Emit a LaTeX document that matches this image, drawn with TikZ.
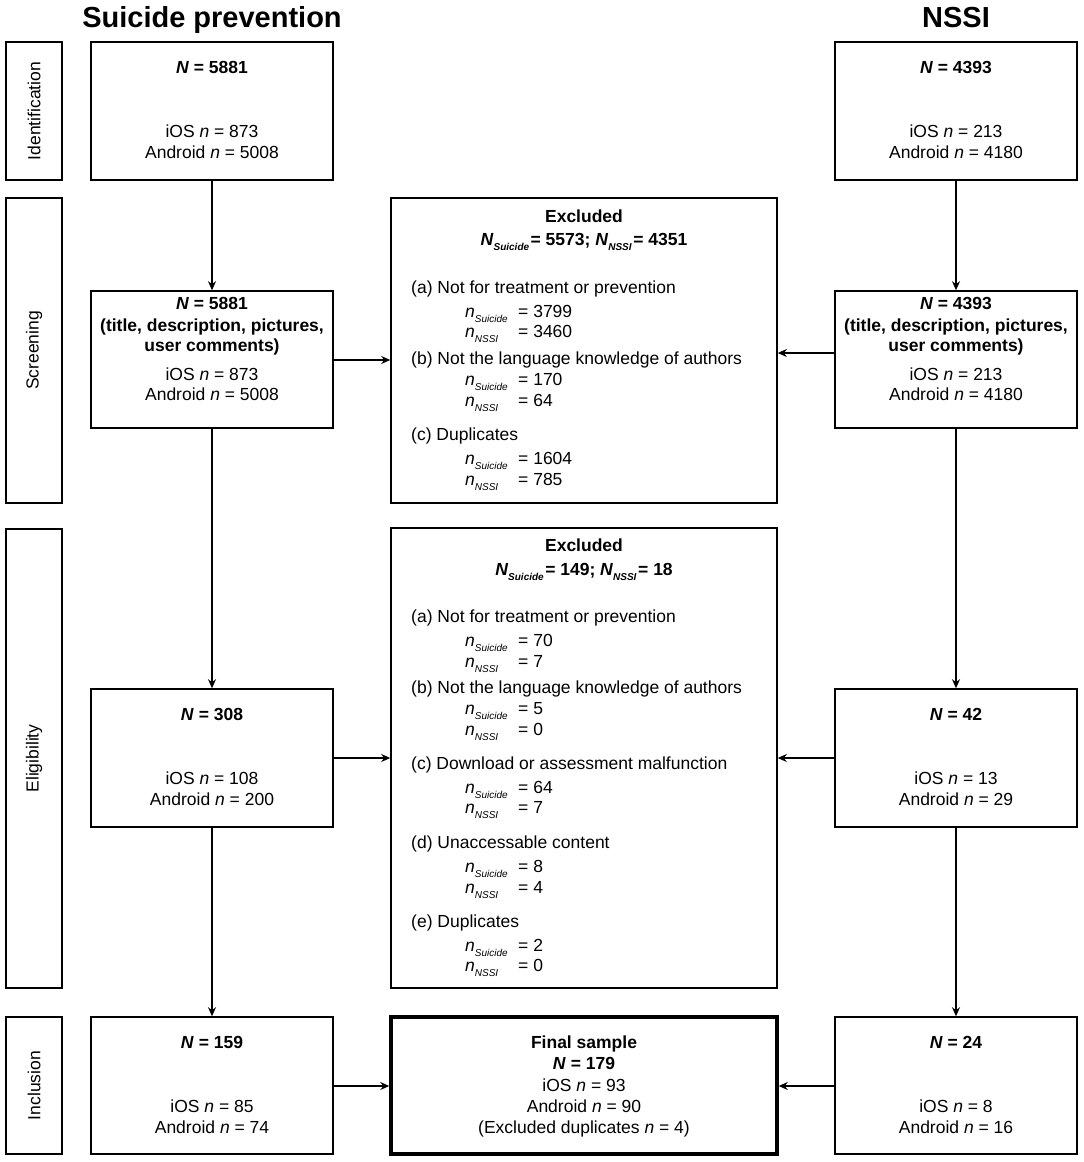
\documentclass[tikz,border=0pt]{standalone}
\usepackage{fontspec}
\setmainfont{Liberation Sans}
\usetikzlibrary{arrows.meta}
\newcommand{\nsub}[1]{\textit{n}\raisebox{-5pt}{\fontsize{10}{10}\selectfont\textit{#1}}}
\newcommand{\Nsub}[1]{\textit{N}\raisebox{-5pt}{\fontsize{10}{10}\selectfont\textit{#1}}\hspace{1.5pt}}
\newcommand{\cnt}[2]{\makebox[53pt][l]{\nsub{#1}}= #2}
\newcommand{\bN}{\textbf{\textit{N}}}
\begin{document}
\begin{tikzpicture}[x=1pt,y=-1pt,
  box/.style={draw, line width=1.6pt, inner sep=0pt},
  stagebox/.style={box, rotate=90, font=\fontsize{17.5}{21}\selectfont},
  txt/.style={inner sep=0pt, anchor=base, font=\fontsize{17.5}{21}\selectfont},
  ltxt/.style={txt, anchor=base west},
  titletxt/.style={inner sep=0pt, anchor=base, font=\fontsize{29}{34}\selectfont\bfseries},
  arr/.style={line width=1.6pt, -{Stealth[length=9pt,width=8pt]}}]
\useasboundingbox (0,0) rectangle (1084,1162);

% titles
\node[titletxt] (T1) at (212,27) {Suicide prevention};
\node[titletxt] (T2) at (956,27) {NSSI};

% stage boxes
\node[stagebox, minimum width=138pt, minimum height=56pt] (S1) at (34,111) {Identification};
\node[stagebox, minimum width=305pt, minimum height=56pt] (S2) at (34,350.5) {Screening};
\node[stagebox, minimum width=459pt, minimum height=56pt] (S3) at (34,758.5) {Eligibility};
\node[stagebox, minimum width=137pt, minimum height=56pt] (S4) at (34,1085.5) {Inclusion};

% left column
\node[box, minimum width=242pt, minimum height=138pt] (L1) at (212,111) {};
\node[box, minimum width=242pt, minimum height=137pt] (L2) at (212,359.5) {};
\node[box, minimum width=242pt, minimum height=138pt] (L3) at (212,758) {};
\node[box, minimum width=242pt, minimum height=137pt] (L4) at (212,1085.5) {};
% right column
\node[box, minimum width=242pt, minimum height=138pt] (R1) at (956,111) {};
\node[box, minimum width=242pt, minimum height=137pt] (R2) at (956,359.5) {};
\node[box, minimum width=242pt, minimum height=138pt] (R3) at (956,758) {};
\node[box, minimum width=242pt, minimum height=137pt] (R4) at (956,1085.5) {};
% middle
\node[box, minimum width=386pt, minimum height=305pt] (X1) at (584,350.5) {};
\node[box, minimum width=386pt, minimum height=460pt] (X2) at (584,758) {};
\node[box, line width=3.5pt, minimum width=386pt, minimum height=137pt] (F) at (584,1085.5) {};

% arrows
\draw[arr] (L1.south) -- (L2.north);
\draw[arr] (L2.south) -- (L3.north);
\draw[arr] (L3.south) -- (L4.north);
\draw[arr] (R1.south) -- (R2.north);
\draw[arr] (R2.south) -- (R3.north);
\draw[arr] (R3.south) -- (R4.north);
\draw[arr] ([yshift=-0.5pt]L2.east) -- ([yshift=-0.5pt]L2.east -| X1.west);
\draw[arr] ([yshift=6.5pt]R2.west) -- ([yshift=6.5pt]R2.west -| X1.east);
\draw[arr] (L3.east) -- (L3.east -| X2.west);
\draw[arr] (R3.west) -- (R3.west -| X2.east);
\draw[arr] ([yshift=-0.5pt]L4.east) -- ([yshift=-0.5pt]L4.east -| F.west);
\draw[arr] ([yshift=-0.5pt]R4.west) -- ([yshift=-0.5pt]R4.west -| F.east);

% left column texts
\node[txt] (l1a) at (212,73) {\bN\textbf{ = 5881}};
\node[txt] (l1b) at (212,137) {iOS \textit{n} = 873};
\node[txt] (l1c) at (212,158.5) {Android \textit{n} = 5008};
\node[txt] (l2a) at (212,309) {\bN\textbf{ = 5881}};
\node[txt] (l2b) at (212,331.5) {\textbf{(title, description, pictures,}};
\node[txt] (l2c) at (212,351.5) {\textbf{user comments)}};
\node[txt] (l2d) at (212,380) {iOS \textit{n} = 873};
\node[txt] (l2e) at (212,400.5) {Android \textit{n} = 5008};
\node[txt] (l3a) at (212,720) {\bN\textbf{ = 308}};
\node[txt] (l3b) at (212,784) {iOS \textit{n} = 108};
\node[txt] (l3c) at (212,805.5) {Android \textit{n} = 200};
\node[txt] (l4a) at (212,1048) {\bN\textbf{ = 159}};
\node[txt] (l4b) at (212,1112) {iOS \textit{n} = 85};
\node[txt] (l4c) at (212,1133.5) {Android \textit{n} = 74};

% right column texts
\node[txt] (r1a) at (956,73) {\bN\textbf{ = 4393}};
\node[txt] (r1b) at (956,137) {iOS \textit{n} = 213};
\node[txt] (r1c) at (956,158.5) {Android \textit{n} = 4180};
\node[txt] (r2a) at (956,309) {\bN\textbf{ = 4393}};
\node[txt] (r2b) at (956,331.5) {\textbf{(title, description, pictures,}};
\node[txt] (r2c) at (956,351.5) {\textbf{user comments)}};
\node[txt] (r2d) at (956,380) {iOS \textit{n} = 213};
\node[txt] (r2e) at (956,400.5) {Android \textit{n} = 4180};
\node[txt] (r3a) at (956,720) {\bN\textbf{ = 42}};
\node[txt] (r3b) at (956,784) {iOS \textit{n} = 13};
\node[txt] (r3c) at (956,805.5) {Android \textit{n} = 29};
\node[txt] (r4a) at (956,1048) {\bN\textbf{ = 24}};
\node[txt] (r4b) at (956,1112) {iOS \textit{n} = 8};
\node[txt] (r4c) at (956,1133.5) {Android \textit{n} = 16};

% final sample
\node[txt] (f1) at (584,1048) {\textbf{Final sample}};
\node[txt] (f2) at (584,1069.5) {\bN\textbf{ = 179}};
\node[txt] (f3) at (584,1091) {iOS \textit{n} = 93};
\node[txt] (f4) at (584,1112) {Android \textit{n} = 90};
\node[txt] (f5) at (584,1133.5) {(Excluded duplicates \textit{n} = 4)};

% excluded 1
\node[txt] (x1h) at (584,222) {\textbf{Excluded}};
\node[txt] (x1n) at (584,245) {\bfseries\Nsub{Suicide}= 5573; \Nsub{NSSI}= 4351};
\node[ltxt] (x1a) at (411,293) {(a) Not for treatment or prevention};
\node[ltxt] (x1a1) at (465,317) {\cnt{Suicide}{3799}};
\node[ltxt] (x1a2) at (465,337) {\cnt{NSSI}{3460}};
\node[ltxt] (x1b) at (411,364) {(b) Not the language knowledge of authors};
\node[ltxt] (x1b1) at (465,385) {\cnt{Suicide}{170}};
\node[ltxt] (x1b2) at (465,406) {\cnt{NSSI}{64}};
\node[ltxt] (x1c) at (411,440) {(c) Duplicates};
\node[ltxt] (x1c1) at (465,464) {\cnt{Suicide}{1604}};
\node[ltxt] (x1c2) at (465,485) {\cnt{NSSI}{785}};

% excluded 2
\node[txt] (x2h) at (584,551.5) {\textbf{Excluded}};
\node[txt] (x2n) at (584,575) {\bfseries\Nsub{Suicide}= 149; \Nsub{NSSI}= 18};
\node[ltxt] (x2a) at (411,622) {(a) Not for treatment or prevention};
\node[ltxt] (x2a1) at (465,646) {\cnt{Suicide}{70}};
\node[ltxt] (x2a2) at (465,667) {\cnt{NSSI}{7}};
\node[ltxt] (x2b) at (411,693) {(b) Not the language knowledge of authors};
\node[ltxt] (x2b1) at (465,714) {\cnt{Suicide}{5}};
\node[ltxt] (x2b2) at (465,735) {\cnt{NSSI}{0}};
\node[ltxt] (x2c) at (411,769) {(c) Download or assessment malfunction};
\node[ltxt] (x2c1) at (465,793) {\cnt{Suicide}{64}};
\node[ltxt] (x2c2) at (465,813) {\cnt{NSSI}{7}};
\node[ltxt] (x2d) at (411,848) {(d) Unaccessable content};
\node[ltxt] (x2d1) at (465,872) {\cnt{Suicide}{8}};
\node[ltxt] (x2d2) at (465,893) {\cnt{NSSI}{4}};
\node[ltxt] (x2e) at (411,927) {(e) Duplicates};
\node[ltxt] (x2e1) at (465,951) {\cnt{Suicide}{2}};
\node[ltxt] (x2e2) at (465,971) {\cnt{NSSI}{0}};
\end{tikzpicture}
\end{document}
